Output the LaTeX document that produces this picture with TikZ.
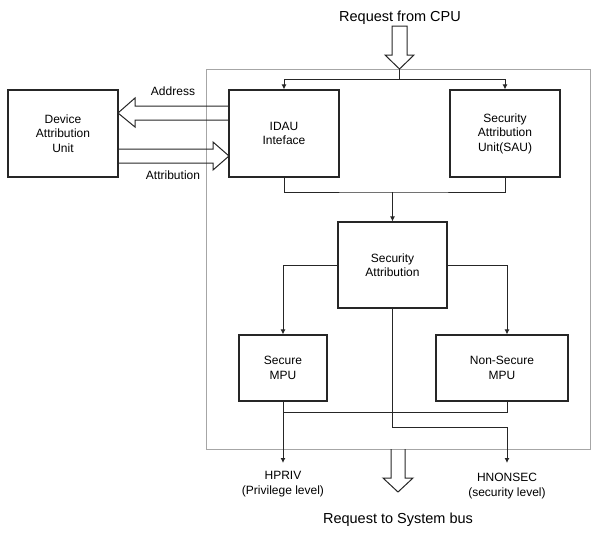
\documentclass[tikz,border=0pt]{standalone}
\usepackage{fontspec}
\setmainfont{Liberation Sans}
\usetikzlibrary{arrows.meta}

\tikzset{
  unit/.style={draw=black!85, line width=1.1pt, align=center, inner sep=0pt,
    font=\fontsize{12}{14.5}\selectfont},
  link/.style={draw=black!85, line width=1pt},
  tip/.style={-{Latex[length=5pt,width=5pt]}},
  fat/.style={draw=black!85, line width=1pt, line join=miter},
  lbl/.style={font=\fontsize{12}{15}\selectfont, align=center, inner sep=0pt},
  big/.style={font=\fontsize{14.5}{17}\selectfont, inner sep=0pt}
}

\begin{document}
\begin{tikzpicture}[x=1pt,y=-1pt]
		\useasboundingbox (0,0) rectangle (600,533);
		\draw[gray!70, line width=1pt] (206.5,69) rectangle (590,449);
		
		\node[unit, minimum width=110pt, minimum height=87pt] (dau) at (63,133.5) {Device\\Attribution\\Unit};
		\node[unit, minimum width=110pt, minimum height=87pt] (idau) at (284,133.5) {IDAU\\Inteface};
		\node[unit, minimum width=110pt, minimum height=87pt] (sau) at (505,133.5) {Security\\Attribution\\Unit(SAU)};
		\node[unit, minimum width=109pt, minimum height=86pt] (secattr) at (392.5,265) {Security\\Attribution};
		\node[unit, minimum width=88pt, minimum height=66pt] (smpu) at (283,368) {Secure\\MPU};
		\node[unit, minimum width=132pt, minimum height=66pt] (nsmpu) at (502,368) {Non-Secure\\MPU};
		
		\node[big, anchor=base] (cpu) at (400,21.2) {Request from CPU};
		\node[big, anchor=base] (bus) at (398,523.2) {Request to System bus};
		\node[lbl, anchor=base] (addr) at (173,95.3) {Address};
		\node[lbl, anchor=base] (attr) at (173,179.3) {Attribution};
		\node[lbl, anchor=north] (hpriv) at (283,471.5) {HPRIV\\(Privilege level)};
		\node[lbl, anchor=north] (hnonsec) at (507,472.5) {HNONSEC\\(security level)};
		
		% hollow block arrows
		\draw[fat] (392,26) -- (392,55) -- (385,55) -- (399.5,69) -- (414,55) -- (407,55) -- (407,26) -- cycle;
		\draw[fat] (391,449) -- (391,478) -- (383,478) -- (398,492) -- (413,478) -- (405,478) -- (405,449);
		\draw[fat] (229,106) -- (135,106) -- (135,98) -- (118,113) -- (135,127) -- (135,120) -- (229,120);
		\draw[fat] (118,149) -- (213,149) -- (213,142) -- (229,156) -- (213,170) -- (213,163) -- (118,163);
		
		\coordinate (cputip) at (399.5,69);
		\coordinate (split) at (399.5,79);
		\coordinate (merge) at (392.5,192);
		\coordinate (mpujoin) at (283,412);
		\coordinate (nsjoin) at (507,427);
		
		\draw[link] (cputip) -- (split);
		\draw[link,tip] (split) -| (idau.north);
		\draw[link,tip] (split) -| (sau.north);
		\draw[link] (idau.south) |- (merge) -| (sau.south);
		\draw[link,tip] (merge) -- (secattr.north);
		\draw[link,tip] (secattr.west) -| (smpu.north);
		\draw[link,tip] (secattr.east) -| ([xshift=5pt]nsmpu.north);
		\draw[link] (smpu.south) |- (mpujoin) -| ([xshift=5pt]nsmpu.south);
		\draw[link,tip] (smpu.south) -- ([yshift=8.5pt]hpriv.north);
		\draw[link] (secattr.south) |- (nsjoin);
		\draw[link,tip] (nsjoin) -- ([yshift=9.5pt]hnonsec.north);
	\end{tikzpicture}
\end{document}
